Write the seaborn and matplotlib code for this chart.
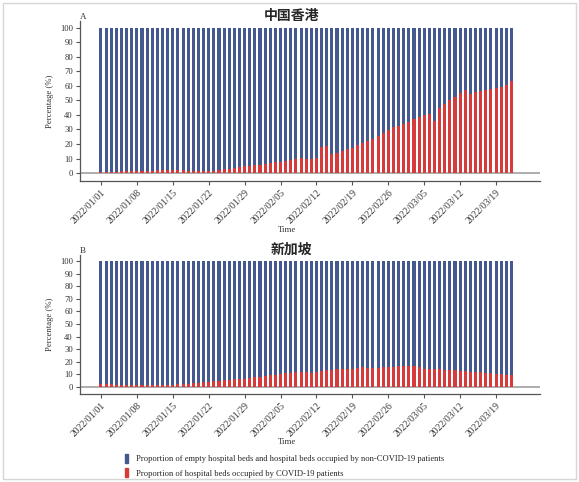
import numpy as np
import pandas as pd
import seaborn as sns
from matplotlib import pyplot as plt
from matplotlib.patches import Patch, Rectangle

# daily values, 2022/01/01 - 2022/03/22
dates = pd.date_range('2022-01-01', '2022-03-22').strftime('%Y/%m/%d').tolist()

hk_covid = [0.8, 0.9, 1.0, 1.0, 1.1, 1.2, 1.3,
            1.4, 1.5, 1.6, 1.7, 1.8, 1.9, 2.0,
            2.0, 1.9, 1.8, 1.7, 1.6, 1.5, 1.5,
            1.5, 1.7, 2.0, 2.5, 3.0, 3.5, 4.0,
            4.5, 5.0, 5.5,
            5.8, 6.5, 7.0, 7.5, 7.8, 8.0, 9.0,
            10.0, 10.5, 10.0, 10.0, 10.2, 17.7, 18.6,
            13.0, 14.0, 15.0, 16.3, 17.5, 19.0, 20.5,
            22.0, 23.7, 25.5, 27.8, 29.7, 32.0, 32.6,
            33.8, 35.4, 37.0, 38.4, 39.8, 41.0, 36.0,
            45.0, 47.8, 50.3, 52.6, 55.4, 57.2, 54.3,
            55.6, 56.5, 57.5, 58.0, 58.4, 59.0, 61.0,
            63.7]

sg_covid = [2.3, 2.2, 1.9, 1.7, 1.5, 1.4, 1.3,
            1.2, 1.1, 1.1, 1.2, 1.3, 1.4, 1.6,
            1.8, 2.0, 2.3, 2.6, 2.9, 3.3, 3.7,
            4.2, 4.5, 4.9, 5.3, 5.6, 6.0, 6.3,
            6.6, 7.1, 7.6,
            8.2, 8.6, 9.1, 9.6, 10.1, 10.8, 11.4,
            11.8, 12.1, 11.8, 11.3, 11.8, 12.9, 13.4,
            13.2, 14.0, 14.5, 14.2, 14.0, 15.3, 15.8,
            15.0, 15.0, 15.3, 15.5, 15.8, 16.0, 16.6,
            16.8, 16.6, 16.6, 15.5, 14.2, 14.0, 14.0,
            14.0, 13.7, 13.2, 13.2, 12.6, 12.6, 12.1,
            11.6, 11.8, 11.3, 11.3, 10.5, 10.3, 9.5,
            9.2]

total = [100] * len(dates)

panels = [('A', '中国香港', hk_covid), ('B', '新加坡', sg_covid)]

blue = '#44598f'
red = '#d63a3a'

sns.set_style('white')
plt.rcParams['font.family'] = ['Liberation Serif', 'DejaVu Serif']

fig = plt.figure(figsize=(5.79, 4.82), dpi=100)
fig.patches.append(Rectangle((0.005, 0.006), 0.99, 0.988, transform=fig.transFigure,
                             fill=False, edgecolor='#d6d6d6', lw=1))

positions = [[0.138, 0.6245, 0.795, 0.332], [0.138, 0.183, 0.795, 0.288]]

for (letter, name, covid), pos in zip(panels, positions):
    ax = fig.add_axes(pos)
    df = pd.DataFrame({'date': dates, 'total': total, 'covid': covid})
    sns.barplot(data=df, x='date', y='total', color=blue, width=0.6,
                errorbar=None, saturation=1, linewidth=0, ax=ax)
    sns.barplot(data=df, x='date', y='covid', color=red, width=0.6,
                errorbar=None, saturation=1, linewidth=0, ax=ax)
    ax.axhline(0, color='#a0a0a0', lw=1.2, zorder=0.5)
    ax.set_xlim(-4.1, 85.6)
    ax.set_ylim(-5.5, 104.8)
    ax.set_yticks(range(0, 101, 10))
    ax.set_xticks(range(0, len(dates), 7))
    ax.set_xticklabels(dates[::7], rotation=45, ha='right', rotation_mode='anchor',
                       fontsize=7, color='#333333')
    ax.tick_params(axis='y', labelsize=6.2, length=3, color='#555555', labelcolor='#333333',
                   left=True, pad=2)
    ax.tick_params(axis='x', length=3, color='#555555', bottom=True, pad=2)
    for s in ['top', 'right']:
        ax.spines[s].set_visible(False)
    for s in ['left', 'bottom']:
        ax.spines[s].set_color('#555555')
        ax.spines[s].set_linewidth(0.9)
    ax.set_ylabel('Percentage (%)', fontsize=6.3, color='#333333', labelpad=4)
    ax.set_xlabel('Time', fontsize=6.3, color='#333333')
    ax.xaxis.set_label_coords(0.45, -0.28 if letter == 'A' else -0.32)
    ax.text(0.0, 1.0, letter, transform=ax.transAxes, fontsize=6.5, color='#333333',
            ha='left', va='bottom')
    ax.set_title(name, fontsize=10, fontweight='bold', family=['Noto Sans CJK SC', 'DejaVu Sans'],
                 x=0.46, pad=1)

handles = [Patch(color=blue, label='Proportion of empty hospital beds and hospital beds occupied by non-COVID-19 patients'),
           Patch(color=red, label='Proportion of hospital beds occupied by COVID-19 patients')]
fig.legend(handles=handles, loc='upper left', bbox_to_anchor=(0.21, 0.066),
           frameon=False, fontsize=6.1, handlelength=0.35, handleheight=1.3,
           handletextpad=0.9, labelspacing=0.6, borderaxespad=0)

fig.savefig('out.png', dpi=100)
